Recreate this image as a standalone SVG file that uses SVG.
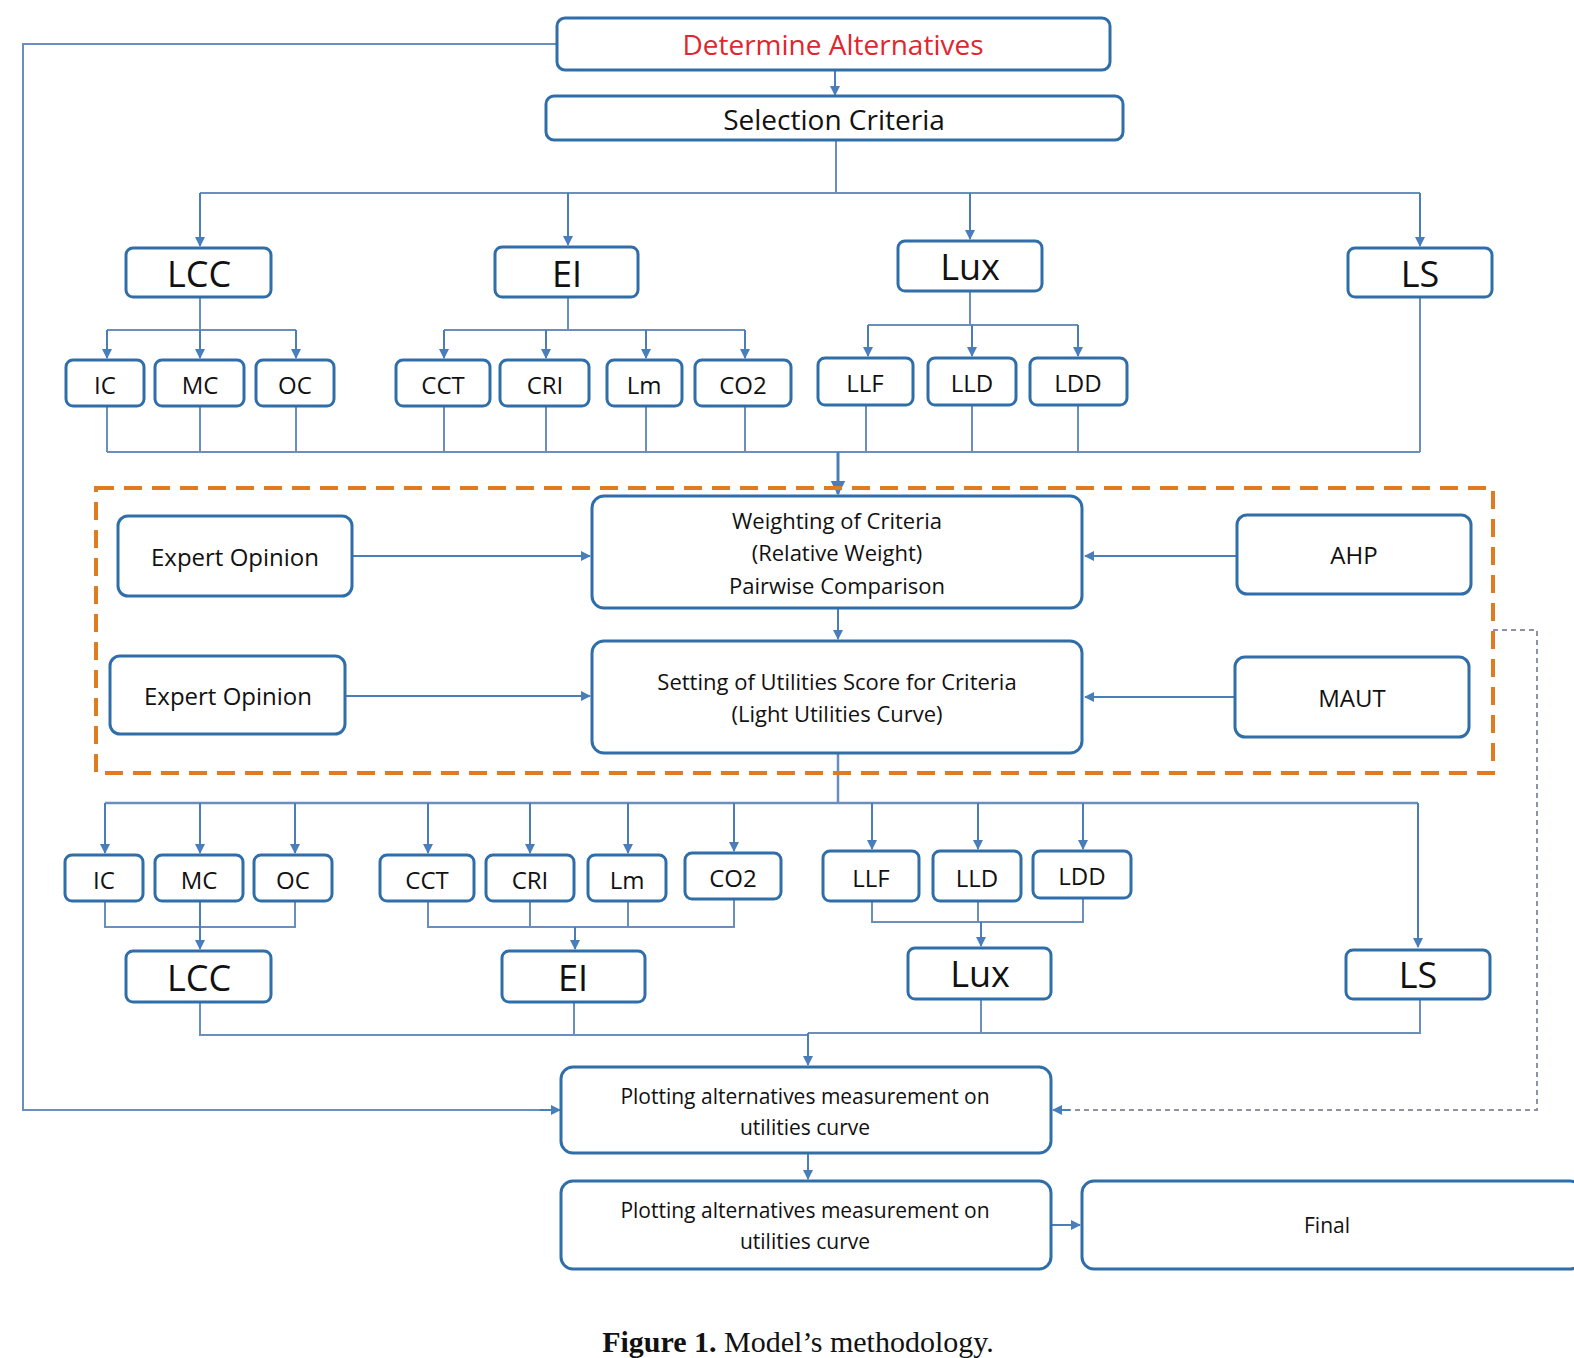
<svg xmlns="http://www.w3.org/2000/svg" width="1574" height="1358" viewBox="0 0 1574 1358">
<defs>
<marker id="ar" viewBox="0 0 10 10" refX="9" refY="5" markerWidth="5" markerHeight="5" orient="auto"><path d="M0,0 L10,5 L0,10 z" fill="#4a7ebb"/></marker>
<style>
.b{fill:#fff;stroke:#2f6ea8;stroke-width:3}
.t{font-family:"Open Sans","Noto Sans",sans-serif;fill:#111;text-anchor:middle;dominant-baseline:central}
.c{fill:none;stroke:#6a8fbf;stroke-width:2}
.a{fill:none;stroke:#4a7ebb;stroke-width:2;marker-end:url(#ar)}
</style>
</defs>
<rect width="1574" height="1358" fill="#fff"/>
<g id="connectors">
<path class="c" d="M557,44 H23 V1110 H550"/><path class="a" d="M540,1110 H560"/>
<path class="c" d="M1493,630 H1537 V1110 H1062" stroke-dasharray="5,4" style="stroke:#8a94a6"/><path class="a" d="M1070,1110 H1053"/>
<path class="a" d="M835,70 V95"/>
<path class="c" d="M836,140 V193 M200,193 H1420"/>
<path class="a" d="M200,193 V246"/><path class="a" d="M568,193 V245"/><path class="a" d="M970,193 V239"/><path class="a" d="M1420,193 V246"/>
<path class="c" d="M200,297 V330 M107,330 H296 M568,297 V330 M444,330 H745 M970,291 V325 M868,325 H1078"/>
<path class="a" d="M107,330 V358"/><path class="a" d="M200,330 V358"/><path class="a" d="M296,330 V358"/>
<path class="a" d="M444,330 V358"/><path class="a" d="M546,330 V358"/><path class="a" d="M646,330 V358"/><path class="a" d="M745,330 V358"/>
<path class="a" d="M868,325 V356"/><path class="a" d="M972,325 V356"/><path class="a" d="M1078,325 V356"/>
<path class="c" d="M107,406 V452 M200,406 V452 M296,406 V452 M444,406 V452 M546,406 V452 M646,406 V452 M745,406 V452 M866,405 V452 M972,405 V452 M1078,405 V452 M1420,297 V452 M107,452 H1420"/>
<path class="a" d="M838,452 V494" style="stroke-width:3"/>
<path class="a" d="M352,556 H590"/><path class="a" d="M1237,556 H1085"/>
<path class="a" d="M838,608 V639"/>
<path class="a" d="M345,696 H590"/><path class="a" d="M1235,697 H1085"/>
<path class="c" d="M838,753 V803 M105,803 H1418" style="stroke-width:2.5"/>
<path class="a" d="M105,803 V853"/><path class="a" d="M200,803 V853"/><path class="a" d="M295,803 V853"/>
<path class="a" d="M428,803 V853"/><path class="a" d="M530,803 V853"/><path class="a" d="M628,803 V853"/><path class="a" d="M734,803 V851"/>
<path class="a" d="M872,803 V849"/><path class="a" d="M978,803 V849"/><path class="a" d="M1083,803 V849"/><path class="a" d="M1418,803 V947"/>
<path class="c" d="M105,901 V927 H295 V901 M428,901 V927 H734 V899 M530,901 V927 M628,901 V927 M872,901 V922 H1083 V898 M978,901 V922"/>
<path class="a" d="M200,901 V949"/><path class="a" d="M575,927 V949"/><path class="a" d="M981,922 V946"/>
<path class="c" d="M200,1002 V1035 H808 M574,1002 V1035 M981,999 V1033 M1420,999 V1033 H808"/>
<path class="a" d="M808,1033 V1065"/>
<path class="a" d="M808,1153 V1179"/>
<path class="a" d="M1051,1225 H1080"/>
</g>
<rect x="96" y="488" width="1397" height="285" fill="none" stroke="#e07b20" stroke-width="4" stroke-dasharray="18,10"/>
<g id="n_det"><rect class="b" x="557" y="18" width="553" height="52" rx="8"/><text class="t" x="833" y="44" font-size="28" style="fill:#e0262e">Determine Alternatives</text></g>
<g id="n_sel"><rect class="b" x="546" y="96" width="577" height="44" rx="8"/><text class="t" x="834" y="119" font-size="28">Selection Criteria</text></g>
<g id="n_lcc1"><rect class="b" x="126" y="248" width="145" height="49" rx="7"/><text class="t" x="199" y="273" font-size="36">LCC</text></g>
<g id="n_ei1"><rect class="b" x="495" y="247" width="143" height="50" rx="7"/><text class="t" x="567" y="273" font-size="36">EI</text></g>
<g id="n_lux1"><rect class="b" x="898" y="241" width="144" height="50" rx="7"/><text class="t" x="970" y="266" font-size="36">Lux</text></g>
<g id="n_ls1"><rect class="b" x="1348" y="248" width="144" height="49" rx="7"/><text class="t" x="1420" y="273" font-size="36">LS</text></g>
<g id="n_ic1"><rect class="b" x="66" y="360" width="78" height="46" rx="7"/><text class="t" x="105" y="384" font-size="24">IC</text></g>
<g id="n_mc1"><rect class="b" x="155" y="360" width="89" height="46" rx="7"/><text class="t" x="200" y="384" font-size="24">MC</text></g>
<g id="n_oc1"><rect class="b" x="256" y="360" width="78" height="46" rx="7"/><text class="t" x="295" y="384" font-size="24">OC</text></g>
<g id="n_cct1"><rect class="b" x="396" y="360" width="94" height="46" rx="7"/><text class="t" x="443" y="384" font-size="24">CCT</text></g>
<g id="n_cri1"><rect class="b" x="500" y="360" width="89" height="46" rx="7"/><text class="t" x="545" y="384" font-size="24">CRI</text></g>
<g id="n_lm1"><rect class="b" x="607" y="360" width="75" height="46" rx="7"/><text class="t" x="644" y="384" font-size="24">Lm</text></g>
<g id="n_co1"><rect class="b" x="695" y="360" width="96" height="46" rx="7"/><text class="t" x="743" y="384" font-size="24">CO2</text></g>
<g id="n_llf1"><rect class="b" x="818" y="358" width="95" height="47" rx="7"/><text class="t" x="865" y="382" font-size="24">LLF</text></g>
<g id="n_lld1"><rect class="b" x="928" y="358" width="88" height="47" rx="7"/><text class="t" x="972" y="382" font-size="24">LLD</text></g>
<g id="n_ldd1"><rect class="b" x="1030" y="358" width="97" height="47" rx="7"/><text class="t" x="1078" y="382" font-size="24">LDD</text></g>
<g id="n_exp1"><rect class="b" x="118" y="516" width="234" height="80" rx="10"/><text class="t" x="235" y="556" font-size="24">Expert Opinion</text></g>
<g id="n_wgt"><rect class="b" x="592" y="496" width="490" height="112" rx="12"/><text class="t" x="837" y="520" font-size="22">Weighting of Criteria</text><text class="t" x="837" y="552" font-size="22">(Relative Weight)</text><text class="t" x="837" y="585" font-size="22">Pairwise Comparison</text></g>
<g id="n_ahp"><rect class="b" x="1237" y="515" width="234" height="79" rx="10"/><text class="t" x="1354" y="554" font-size="24">AHP</text></g>
<g id="n_exp2"><rect class="b" x="110" y="656" width="235" height="78" rx="10"/><text class="t" x="228" y="695" font-size="24">Expert Opinion</text></g>
<g id="n_set"><rect class="b" x="592" y="641" width="490" height="112" rx="12"/><text class="t" x="837" y="681" font-size="22">Setting of Utilities Score for Criteria</text><text class="t" x="837" y="713" font-size="22">(Light Utilities Curve)</text></g>
<g id="n_maut"><rect class="b" x="1235" y="657" width="234" height="80" rx="10"/><text class="t" x="1352" y="697" font-size="24">MAUT</text></g>
<g id="n_ic2"><rect class="b" x="65" y="855" width="78" height="46" rx="7"/><text class="t" x="104" y="879" font-size="24">IC</text></g>
<g id="n_mc2"><rect class="b" x="155" y="855" width="88" height="46" rx="7"/><text class="t" x="199" y="879" font-size="24">MC</text></g>
<g id="n_oc2"><rect class="b" x="254" y="855" width="78" height="46" rx="7"/><text class="t" x="293" y="879" font-size="24">OC</text></g>
<g id="n_cct2"><rect class="b" x="380" y="855" width="94" height="46" rx="7"/><text class="t" x="427" y="879" font-size="24">CCT</text></g>
<g id="n_cri2"><rect class="b" x="486" y="855" width="88" height="46" rx="7"/><text class="t" x="530" y="879" font-size="24">CRI</text></g>
<g id="n_lm2"><rect class="b" x="588" y="855" width="78" height="46" rx="7"/><text class="t" x="627" y="879" font-size="24">Lm</text></g>
<g id="n_co2"><rect class="b" x="685" y="853" width="96" height="46" rx="7"/><text class="t" x="733" y="877" font-size="24">CO2</text></g>
<g id="n_llf2"><rect class="b" x="823" y="851" width="96" height="50" rx="7"/><text class="t" x="871" y="877" font-size="24">LLF</text></g>
<g id="n_lld2"><rect class="b" x="933" y="851" width="88" height="50" rx="7"/><text class="t" x="977" y="877" font-size="24">LLD</text></g>
<g id="n_ldd2"><rect class="b" x="1033" y="851" width="98" height="47" rx="7"/><text class="t" x="1082" y="875" font-size="24">LDD</text></g>
<g id="n_lcc2"><rect class="b" x="126" y="951" width="145" height="51" rx="7"/><text class="t" x="199" y="977" font-size="36">LCC</text></g>
<g id="n_ei2"><rect class="b" x="502" y="951" width="143" height="51" rx="7"/><text class="t" x="573" y="977" font-size="36">EI</text></g>
<g id="n_lux2"><rect class="b" x="908" y="948" width="143" height="51" rx="7"/><text class="t" x="980" y="973" font-size="36">Lux</text></g>
<g id="n_ls2"><rect class="b" x="1346" y="950" width="144" height="49" rx="7"/><text class="t" x="1418" y="974" font-size="36">LS</text></g>
<g id="n_plot1"><rect class="b" x="561" y="1067" width="490" height="86" rx="12"/><text class="t" x="805" y="1096" font-size="21">Plotting alternatives measurement on</text><text class="t" x="805" y="1127" font-size="21">utilities curve</text></g>
<g id="n_plot2"><rect class="b" x="561" y="1181" width="490" height="88" rx="12"/><text class="t" x="805" y="1210" font-size="21">Plotting alternatives measurement on</text><text class="t" x="805" y="1241" font-size="21">utilities curve</text></g>
<g id="n_final"><rect class="b" x="1082" y="1181" width="500" height="88" rx="12"/><text class="t" x="1327" y="1225" font-size="21">Final</text></g>
<text x="798" y="1352" font-family="'Liberation Serif',serif" font-size="30" text-anchor="middle" fill="#111"><tspan font-weight="bold">Figure 1.</tspan> Model’s methodology.</text>
</svg>
